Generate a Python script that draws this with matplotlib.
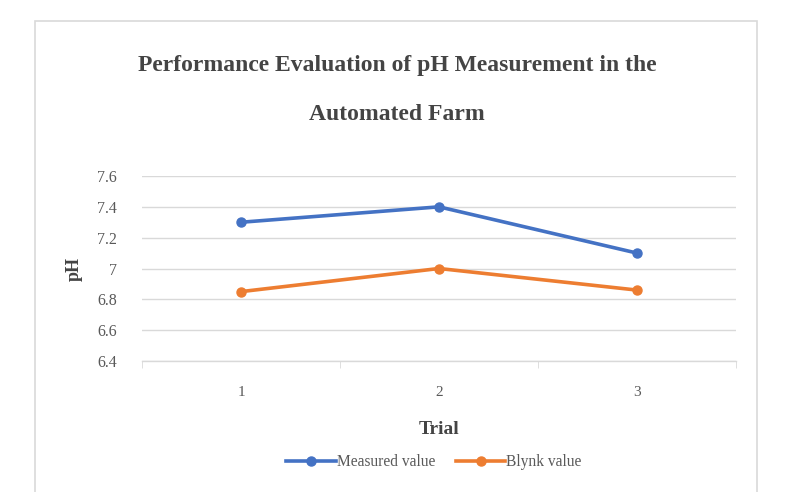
import matplotlib.pyplot as plt
from matplotlib.patches import Rectangle

trials = [1, 2, 3]
measured = [7.30, 7.40, 7.10]
blynk = [6.85, 7.00, 6.86]
y_ticks = [6.4, 6.6, 6.8, 7.0, 7.2, 7.4, 7.6]
y_labels = ["6.4", "6.6", "6.8", "7", "7.2", "7.4", "7.6"]

BLUE = "#4472C4"
ORANGE = "#ED7D31"
GRAY = "#595959"
DARK = "#444444"
GRID = "#d9d9d9"

plt.rcParams["font.family"] = ["Liberation Serif", "DejaVu Serif"]

fig = plt.figure(figsize=(8.06, 4.92), dpi=100)
fig.patches.append(Rectangle((35 / 806, -0.05), (757 - 35) / 806, 1 - 21 / 492 + 0.05,
                             transform=fig.transFigure, fill=False, edgecolor=GRID, linewidth=1.2))

ax = fig.add_axes([142 / 806, 131 / 492, 594 / 806, 185 / 492])
ax.plot(trials, measured, color=BLUE, linewidth=2.6, marker="o", markersize=6.5, label="Measured value")
ax.plot(trials, blynk, color=ORANGE, linewidth=2.6, marker="o", markersize=6.5, label="Blynk value")

ax.set_xlim(0.5, 3.5)
ax.set_ylim(6.4, 7.6)
ax.set_yticks(y_ticks)
ax.set_yticklabels(y_labels)
ax.set_xticks(trials)
ax.set_xticks([0.5, 1.5, 2.5, 3.5], minor=True)
ax.tick_params(axis="x", which="major", length=0, pad=18, labelsize=11, labelcolor=GRAY)
ax.tick_params(axis="x", which="minor", length=5, color=GRID, direction="out")
ax.tick_params(axis="y", length=0, pad=18, labelsize=11.5, labelcolor=GRAY)
ax.grid(axis="y", color=GRID, linewidth=1.0)
ax.set_axisbelow(True)
for side in ["top", "right", "left"]:
    ax.spines[side].set_visible(False)
ax.spines["bottom"].set_color(GRID)
ax.spines["bottom"].set_linewidth(1.0)

ax.set_xlabel("Trial", fontsize=14, fontweight="bold", color=DARK, labelpad=16)
ax.set_ylabel("pH", fontsize=13, fontweight="bold", color=DARK, labelpad=10)

fig.text(397 / 806, 1 - 65 / 492, "Performance Evaluation of pH Measurement in the",
         ha="center", va="center", fontsize=17, fontweight="bold", color=DARK)
fig.text(397 / 806, 1 - 114 / 492, "Automated Farm",
         ha="center", va="center", fontsize=17, fontweight="bold", color=DARK)

fig.legend(loc="center", bbox_to_anchor=(434 / 806, 1 - 462 / 492), ncol=2, frameon=False,
           fontsize=11.2, labelcolor=GRAY, handlelength=3.2, handletextpad=0.05, columnspacing=1.3)

fig.savefig("out.png", dpi=100)
